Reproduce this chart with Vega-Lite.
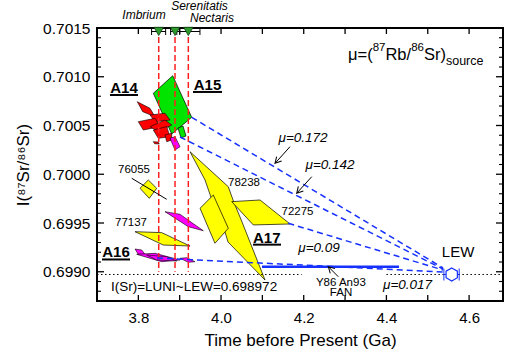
{
  "$schema": "https://vega.github.io/schema/vega-lite/v6.json",
  "width": 406,
  "height": 273,
  "autosize": {"type": "none"},
  "padding": {"left": 97, "top": 28, "right": 5, "bottom": 58},
  "background": "white",
  "config": {
    "view": {"stroke": "black", "strokeWidth": 2},
    "font": "Liberation Sans",
    "axis": {"grid": false, "domain": false, "ticks": false, "labelColor": "black", "titleColor": "black", "labelFont": "Liberation Sans", "titleFont": "Liberation Sans", "titleFontWeight": "normal"},
    "text": {"font": "Liberation Sans", "color": "black"}
  },
  "datasets": {
    "poly": [
      {"id": "g1", "g": "A15", "o": 1, "x": 3.8362, "y": 0.70083},
      {"id": "g1", "g": "A15", "o": 2, "x": 3.8831, "y": 0.701011},
      {"id": "g1", "g": "A15", "o": 3, "x": 3.9291, "y": 0.700584},
      {"id": "g1", "g": "A15", "o": 4, "x": 3.8807, "y": 0.700413},
      {"id": "g2", "g": "A15", "o": 1, "x": 3.8959, "y": 0.700474},
      {"id": "g2", "g": "A15", "o": 2, "x": 3.908, "y": 0.700495},
      {"id": "g2", "g": "A15", "o": 3, "x": 3.9153, "y": 0.700392},
      {"id": "g2", "g": "A15", "o": 4, "x": 3.9032, "y": 0.700372},
      {"id": "r1", "g": "A14", "o": 1, "x": 3.7975, "y": 0.700744},
      {"id": "r1", "g": "A14", "o": 2, "x": 3.8282, "y": 0.700676},
      {"id": "r1", "g": "A14", "o": 3, "x": 3.8403, "y": 0.70059},
      {"id": "r1", "g": "A14", "o": 4, "x": 3.8105, "y": 0.700642},
      {"id": "r2", "g": "A14", "o": 1, "x": 3.8282, "y": 0.700608},
      {"id": "r2", "g": "A14", "o": 2, "x": 3.8645, "y": 0.700625},
      {"id": "r2", "g": "A14", "o": 3, "x": 3.8766, "y": 0.700556},
      {"id": "r2", "g": "A14", "o": 4, "x": 3.8403, "y": 0.700539},
      {"id": "r3", "g": "A14", "o": 1, "x": 3.7999, "y": 0.700539},
      {"id": "r3", "g": "A14", "o": 2, "x": 3.8403, "y": 0.700574},
      {"id": "r3", "g": "A14", "o": 3, "x": 3.8524, "y": 0.700488},
      {"id": "r3", "g": "A14", "o": 4, "x": 3.812, "y": 0.700454},
      {"id": "r4", "g": "A14", "o": 1, "x": 3.8282, "y": 0.700488},
      {"id": "r4", "g": "A14", "o": 2, "x": 3.8645, "y": 0.700556},
      {"id": "r4", "g": "A14", "o": 3, "x": 3.8807, "y": 0.700505},
      {"id": "r4", "g": "A14", "o": 4, "x": 3.8483, "y": 0.700436},
      {"id": "r5", "g": "A14", "o": 1, "x": 3.8362, "y": 0.700454},
      {"id": "r5", "g": "A14", "o": 2, "x": 3.8686, "y": 0.700488},
      {"id": "r5", "g": "A14", "o": 3, "x": 3.8766, "y": 0.700385},
      {"id": "r5", "g": "A14", "o": 4, "x": 3.8483, "y": 0.700369},
      {"id": "r6", "g": "A14", "o": 1, "x": 3.8645, "y": 0.700403},
      {"id": "r6", "g": "A14", "o": 2, "x": 3.8807, "y": 0.70042},
      {"id": "r6", "g": "A14", "o": 3, "x": 3.8807, "y": 0.700351},
      {"id": "r6", "g": "A14", "o": 4, "x": 3.8686, "y": 0.700334},
      {"id": "r7", "g": "A14", "o": 1, "x": 3.8362, "y": 0.700334},
      {"id": "r7", "g": "A14", "o": 2, "x": 3.8476, "y": 0.70033},
      {"id": "r7", "g": "A14", "o": 3, "x": 3.8507, "y": 0.70031},
      {"id": "r7", "g": "A14", "o": 4, "x": 3.8396, "y": 0.700313},
      {"id": "m1", "g": "FAN", "o": 1, "x": 3.8766, "y": 0.700369},
      {"id": "m1", "g": "FAN", "o": 2, "x": 3.8887, "y": 0.700385},
      {"id": "m1", "g": "FAN", "o": 3, "x": 3.9008, "y": 0.700283},
      {"id": "m1", "g": "FAN", "o": 4, "x": 3.8887, "y": 0.700249},
      {"id": "m2", "g": "FAN", "o": 1, "x": 3.8645, "y": 0.699616},
      {"id": "m2", "g": "FAN", "o": 2, "x": 3.9008, "y": 0.699589},
      {"id": "m2", "g": "FAN", "o": 3, "x": 3.9571, "y": 0.699421},
      {"id": "m2", "g": "FAN", "o": 4, "x": 3.9209, "y": 0.699462},
      {"id": "m3", "g": "FAN", "o": 1, "x": 3.7919, "y": 0.699233},
      {"id": "m3", "g": "FAN", "o": 2, "x": 3.8081, "y": 0.699223},
      {"id": "m3", "g": "FAN", "o": 3, "x": 3.8161, "y": 0.699179},
      {"id": "m3", "g": "FAN", "o": 4, "x": 3.7999, "y": 0.699179},
      {"id": "m4", "g": "FAN", "o": 1, "x": 3.796, "y": 0.699179},
      {"id": "m4", "g": "FAN", "o": 2, "x": 3.8403, "y": 0.699189},
      {"id": "m4", "g": "FAN", "o": 3, "x": 3.9008, "y": 0.699121},
      {"id": "m4", "g": "FAN", "o": 4, "x": 3.8565, "y": 0.699103},
      {"id": "m5", "g": "FAN", "o": 1, "x": 3.8202, "y": 0.699172},
      {"id": "m5", "g": "FAN", "o": 2, "x": 3.8686, "y": 0.699154},
      {"id": "m5", "g": "FAN", "o": 3, "x": 3.8928, "y": 0.69911},
      {"id": "m5", "g": "FAN", "o": 4, "x": 3.8444, "y": 0.699121},
      {"id": "m6", "g": "FAN", "o": 1, "x": 3.9008, "y": 0.699138},
      {"id": "m6", "g": "FAN", "o": 2, "x": 3.917, "y": 0.699144},
      {"id": "m6", "g": "FAN", "o": 3, "x": 3.9371, "y": 0.699103},
      {"id": "m6", "g": "FAN", "o": 4, "x": 3.9209, "y": 0.699097},
      {"id": "y1", "g": "A17", "o": 1, "x": 3.925, "y": 0.700231},
      {"id": "y1", "g": "A17", "o": 2, "x": 4.0176, "y": 0.699872},
      {"id": "y1", "g": "A17", "o": 3, "x": 4.029, "y": 0.699736},
      {"id": "y1", "g": "A17", "o": 4, "x": 4.0508, "y": 0.69951},
      {"id": "y1", "g": "A17", "o": 5, "x": 4.1064, "y": 0.698915},
      {"id": "y1", "g": "A17", "o": 6, "x": 4.0169, "y": 0.699305},
      {"id": "y1", "g": "A17", "o": 7, "x": 4.0096, "y": 0.699408},
      {"id": "y1", "g": "A17", "o": 8, "x": 3.983, "y": 0.699674},
      {"id": "y1", "g": "A17", "o": 9, "x": 3.9613, "y": 0.699941},
      {"id": "y3", "g": "A17", "o": 1, "x": 4.0258, "y": 0.699719},
      {"id": "y3", "g": "A17", "o": 2, "x": 4.0943, "y": 0.699736},
      {"id": "y3", "g": "A17", "o": 3, "x": 4.1669, "y": 0.69949},
      {"id": "y3", "g": "A17", "o": 4, "x": 4.0781, "y": 0.69948},
      {"id": "y2", "g": "A17", "o": 1, "x": 3.9492, "y": 0.699651},
      {"id": "y2", "g": "A17", "o": 2, "x": 3.9813, "y": 0.699787},
      {"id": "y2", "g": "A17", "o": 3, "x": 4.0176, "y": 0.699446},
      {"id": "y2", "g": "A17", "o": 4, "x": 3.9854, "y": 0.699292},
      {"id": "y4", "g": "A17", "o": 1, "x": 3.804, "y": 0.699856},
      {"id": "y4", "g": "A17", "o": 2, "x": 3.8241, "y": 0.699941},
      {"id": "y4", "g": "A17", "o": 3, "x": 3.8444, "y": 0.699856},
      {"id": "y4", "g": "A17", "o": 4, "x": 3.8265, "y": 0.699753},
      {"id": "y5", "g": "A17", "o": 1, "x": 3.7919, "y": 0.699411},
      {"id": "y5", "g": "A17", "o": 2, "x": 3.8565, "y": 0.699401},
      {"id": "y5", "g": "A17", "o": 3, "x": 3.925, "y": 0.699264},
      {"id": "y5", "g": "A17", "o": 4, "x": 3.8604, "y": 0.699274}
    ],
    "segs": [
      {"k": "age", "x": 3.8493, "y": 0.7015, "xe": 3.8493, "ye": 0.699},
      {"k": "age", "x": 3.8887, "y": 0.7015, "xe": 3.8887, "ye": 0.699},
      {"k": "age", "x": 3.9209, "y": 0.7015, "xe": 3.9209, "ye": 0.699},
      {"k": "mix", "x": 3.9291, "y": 0.700584, "xe": 4.537, "ye": 0.699039},
      {"k": "mix", "x": 3.9008, "y": 0.700382, "xe": 4.537, "ye": 0.699028},
      {"k": "mix", "x": 4.1628, "y": 0.699497, "xe": 4.537, "ye": 0.699018},
      {"k": "mix", "x": 3.8451, "y": 0.699141, "xe": 4.537, "ye": 0.698998},
      {"k": "fan", "x": 4.0991, "y": 0.699052, "xe": 4.4305, "ye": 0.699052},
      {"k": "ref", "x": 3.7, "y": 0.698972, "xe": 4.195, "ye": 0.698972},
      {"k": "ref", "x": 4.4, "y": 0.698972, "xe": 4.682, "ye": 0.698972},
      {"k": "blk", "x": 3.7839, "y": 0.699959, "xe": 3.8686, "ye": 0.699743},
      {"k": "blk", "x": 4.1669, "y": 0.700283, "xe": 4.1306, "ye": 0.700112},
      {"k": "blk", "x": 4.2194, "y": 0.699975, "xe": 4.1831, "ye": 0.699805},
      {"k": "blk", "x": 4.2837, "y": 0.698949, "xe": 4.2595, "ye": 0.699052},
      {"k": "ul", "x": 3.7314, "y": 0.700813, "xe": 3.7992, "ye": 0.700813},
      {"k": "ul", "x": 3.9322, "y": 0.700844, "xe": 4.0024, "ye": 0.700844},
      {"k": "ul", "x": 3.7121, "y": 0.699126, "xe": 3.7798, "ye": 0.699126},
      {"k": "ul", "x": 4.0774, "y": 0.699278, "xe": 4.1451, "ye": 0.699278},
      {"k": "err", "x": 3.832, "y": 0.701464, "xe": 3.866, "ye": 0.701464},
      {"k": "err", "x": 3.878, "y": 0.701464, "xe": 3.9, "ye": 0.701464},
      {"k": "err", "x": 3.893, "y": 0.701464, "xe": 3.949, "ye": 0.701464},
      {"k": "lewerr", "x": 4.539, "y": 0.698972, "xe": 4.576, "ye": 0.698972}
    ],
    "caps": [
      {"k": "err", "x": 3.832, "y": 0.701464},
      {"k": "err", "x": 3.866, "y": 0.701464},
      {"k": "err", "x": 3.878, "y": 0.701464},
      {"k": "err", "x": 3.9, "y": 0.701464},
      {"k": "err", "x": 3.893, "y": 0.701464},
      {"k": "err", "x": 3.949, "y": 0.701464},
      {"k": "lewerr", "x": 4.539, "y": 0.698972},
      {"k": "lewerr", "x": 4.576, "y": 0.698972}
    ],
    "basins": [
      {"name": "Imbrium", "x": 3.8493, "y": 0.701465},
      {"name": "Serenitatis", "x": 3.8887, "y": 0.701465},
      {"name": "Nectaris", "x": 3.9209, "y": 0.701465}
    ],
    "lew": [{"name": "LEW", "x": 4.558, "y": 0.698972}],
    "heads": [
      {"k": "a", "x": 4.1306, "y": 0.700112},
      {"k": "a", "x": 4.1831, "y": 0.699805},
      {"k": "b", "x": 4.2595, "y": 0.699052}
    ],
    "yticks": [
      {"side": "L", "m": "minor", "x": 3.7, "y": 0.6988}, {"side": "L", "m": "minor", "x": 3.7, "y": 0.6989}, {"side": "L", "m": "major", "x": 3.7, "y": 0.699},
      {"side": "L", "m": "minor", "x": 3.7, "y": 0.6991}, {"side": "L", "m": "minor", "x": 3.7, "y": 0.6992}, {"side": "L", "m": "minor", "x": 3.7, "y": 0.6993}, {"side": "L", "m": "minor", "x": 3.7, "y": 0.6994}, {"side": "L", "m": "major", "x": 3.7, "y": 0.6995},
      {"side": "L", "m": "minor", "x": 3.7, "y": 0.6996}, {"side": "L", "m": "minor", "x": 3.7, "y": 0.6997}, {"side": "L", "m": "minor", "x": 3.7, "y": 0.6998}, {"side": "L", "m": "minor", "x": 3.7, "y": 0.6999}, {"side": "L", "m": "major", "x": 3.7, "y": 0.7},
      {"side": "L", "m": "minor", "x": 3.7, "y": 0.7001}, {"side": "L", "m": "minor", "x": 3.7, "y": 0.7002}, {"side": "L", "m": "minor", "x": 3.7, "y": 0.7003}, {"side": "L", "m": "minor", "x": 3.7, "y": 0.7004}, {"side": "L", "m": "major", "x": 3.7, "y": 0.7005},
      {"side": "L", "m": "minor", "x": 3.7, "y": 0.7006}, {"side": "L", "m": "minor", "x": 3.7, "y": 0.7007}, {"side": "L", "m": "minor", "x": 3.7, "y": 0.7008}, {"side": "L", "m": "minor", "x": 3.7, "y": 0.7009}, {"side": "L", "m": "major", "x": 3.7, "y": 0.701},
      {"side": "L", "m": "minor", "x": 3.7, "y": 0.7011}, {"side": "L", "m": "minor", "x": 3.7, "y": 0.7012}, {"side": "L", "m": "minor", "x": 3.7, "y": 0.7013}, {"side": "L", "m": "minor", "x": 3.7, "y": 0.7014},
      {"side": "R", "m": "minor", "x": 4.682, "y": 0.6988}, {"side": "R", "m": "minor", "x": 4.682, "y": 0.6989}, {"side": "R", "m": "major", "x": 4.682, "y": 0.699},
      {"side": "R", "m": "minor", "x": 4.682, "y": 0.6991}, {"side": "R", "m": "minor", "x": 4.682, "y": 0.6992}, {"side": "R", "m": "minor", "x": 4.682, "y": 0.6993}, {"side": "R", "m": "minor", "x": 4.682, "y": 0.6994}, {"side": "R", "m": "major", "x": 4.682, "y": 0.6995},
      {"side": "R", "m": "minor", "x": 4.682, "y": 0.6996}, {"side": "R", "m": "minor", "x": 4.682, "y": 0.6997}, {"side": "R", "m": "minor", "x": 4.682, "y": 0.6998}, {"side": "R", "m": "minor", "x": 4.682, "y": 0.6999}, {"side": "R", "m": "major", "x": 4.682, "y": 0.7},
      {"side": "R", "m": "minor", "x": 4.682, "y": 0.7001}, {"side": "R", "m": "minor", "x": 4.682, "y": 0.7002}, {"side": "R", "m": "minor", "x": 4.682, "y": 0.7003}, {"side": "R", "m": "minor", "x": 4.682, "y": 0.7004}, {"side": "R", "m": "major", "x": 4.682, "y": 0.7005},
      {"side": "R", "m": "minor", "x": 4.682, "y": 0.7006}, {"side": "R", "m": "minor", "x": 4.682, "y": 0.7007}, {"side": "R", "m": "minor", "x": 4.682, "y": 0.7008}, {"side": "R", "m": "minor", "x": 4.682, "y": 0.7009}, {"side": "R", "m": "major", "x": 4.682, "y": 0.701},
      {"side": "R", "m": "minor", "x": 4.682, "y": 0.7011}, {"side": "R", "m": "minor", "x": 4.682, "y": 0.7012}, {"side": "R", "m": "minor", "x": 4.682, "y": 0.7013}, {"side": "R", "m": "minor", "x": 4.682, "y": 0.7014}
    ],
    "xticks": [
      {"side": "B", "x": 3.8, "y": 0.6987}, {"side": "B", "x": 3.9, "y": 0.6987}, {"side": "B", "x": 4.0, "y": 0.6987}, {"side": "B", "x": 4.1, "y": 0.6987}, {"side": "B", "x": 4.2, "y": 0.6987}, {"side": "B", "x": 4.3, "y": 0.6987}, {"side": "B", "x": 4.4, "y": 0.6987}, {"side": "B", "x": 4.5, "y": 0.6987}, {"side": "B", "x": 4.6, "y": 0.6987},
      {"side": "T", "x": 3.8, "y": 0.7015}, {"side": "T", "x": 3.9, "y": 0.7015}, {"side": "T", "x": 4.0, "y": 0.7015}, {"side": "T", "x": 4.1, "y": 0.7015}, {"side": "T", "x": 4.2, "y": 0.7015}, {"side": "T", "x": 4.3, "y": 0.7015}, {"side": "T", "x": 4.4, "y": 0.7015}, {"side": "T", "x": 4.5, "y": 0.7015}, {"side": "T", "x": 4.6, "y": 0.7015}
    ],
    "texts": [
      {"k": "A", "t": "A14", "x": 3.7653, "y": 0.700833},
      {"k": "A", "t": "A15", "x": 3.9673, "y": 0.700864},
      {"k": "A", "t": "A16", "x": 3.746, "y": 0.699148},
      {"k": "A", "t": "A17", "x": 4.1105, "y": 0.699298},
      {"k": "s", "t": "76055", "x": 3.7895, "y": 0.700044},
      {"k": "s", "t": "77137", "x": 3.7822, "y": 0.6995},
      {"k": "s", "t": "78238", "x": 4.0556, "y": 0.699913},
      {"k": "s", "t": "72275", "x": 4.185, "y": 0.699616},
      {"k": "s", "t": "Y86 An93", "x": 4.2898, "y": 0.698888},
      {"k": "s", "t": "FAN", "x": 4.2903, "y": 0.698779},
      {"k": "mu", "t": "μ=0.172", "x": 4.1983, "y": 0.700372},
      {"k": "mu", "t": "μ=0.142", "x": 4.2636, "y": 0.700095},
      {"k": "mu", "t": "μ=0.09", "x": 4.237, "y": 0.699241},
      {"k": "mu", "t": "μ=0.017", "x": 4.4511, "y": 0.698864},
      {"k": "basin", "t": "Imbrium", "x": 3.8137, "y": 0.701633},
      {"k": "basin", "t": "Serenitatis", "x": 3.9479, "y": 0.701726},
      {"k": "basin", "t": "Nectaris", "x": 3.9782, "y": 0.701602},
      {"k": "lew", "t": "LEW", "x": 4.5733, "y": 0.699203},
      {"k": "lun", "t": "I(Sr)=LUNI~LEW=0.698972", "x": 3.9347, "y": 0.698847},
      {"k": "src", "t": "μ=(", "x": 4.3072, "y": 0.701223},
      {"k": "sup", "t": "87", "x": 4.3667, "y": 0.701295},
      {"k": "src", "t": "Rb/", "x": 4.3976, "y": 0.701223},
      {"k": "sup", "t": "86", "x": 4.4598, "y": 0.701295},
      {"k": "src", "t": "Sr)", "x": 4.4908, "y": 0.701223},
      {"k": "sub", "t": "source", "x": 4.544, "y": 0.701162}
    ]
  },
  "encoding": {
    "x": {"field": "x", "type": "quantitative", "scale": {"domain": [3.7, 4.682], "nice": false, "zero": false},
      "axis": {"orient": "bottom", "values": [3.8, 4.0, 4.2, 4.4, 4.6], "format": ".1f", "labelPadding": 9, "labelFontSize": 15, "labelOverlap": false, "labelFlush": false, "title": "Time before Present (Ga)", "titleFontSize": 17, "titlePadding": 7}},
    "y": {"field": "y", "type": "quantitative", "scale": {"domain": [0.6987, 0.7015], "nice": false, "zero": false},
      "axis": {"orient": "left", "values": [0.699, 0.6995, 0.7, 0.7005, 0.701, 0.7015], "format": ".4f", "labelPadding": 7, "labelFontSize": 15.5, "labelOverlap": false, "labelFlush": false, "title": "I(⁸⁷Sr/⁸⁶Sr)", "titleFontSize": 17, "titlePadding": 10}}
  },
  "layer": [
    {"data": {"name": "poly"}, "transform": [{"filter": "datum.g=='A15'"}], "mark": {"type": "line", "interpolate": "linear-closed", "fill": "#00e400", "stroke": "black", "strokeWidth": 0.7}, "encoding": {"detail": {"field": "id"}, "order": {"field": "o"}}},
    {"data": {"name": "poly"}, "transform": [{"filter": "datum.g=='A14'"}], "mark": {"type": "line", "interpolate": "linear-closed", "fill": "#ff0000", "stroke": "black", "strokeWidth": 0.6}, "encoding": {"detail": {"field": "id"}, "order": {"field": "o"}}},
    {"data": {"name": "poly"}, "transform": [{"filter": "datum.g=='FAN'"}], "mark": {"type": "line", "interpolate": "linear-closed", "fill": "#ff00ff", "stroke": "black", "strokeWidth": 0.6}, "encoding": {"detail": {"field": "id"}, "order": {"field": "o"}}},
    {"data": {"name": "poly"}, "transform": [{"filter": "datum.g=='A17'"}], "mark": {"type": "line", "interpolate": "linear-closed", "fill": "#ffff00", "stroke": "black", "strokeWidth": 0.7}, "encoding": {"detail": {"field": "id"}, "order": {"field": "o"}}},
    {"data": {"name": "segs"}, "transform": [{"filter": "datum.k=='ref'"}], "mark": {"type": "rule", "stroke": "black", "strokeWidth": 1, "strokeDash": [1.5, 2.5]}, "encoding": {"x2": {"field": "xe"}, "y2": {"field": "ye"}}},
    {"data": {"name": "segs"}, "transform": [{"filter": "datum.k=='age'"}], "mark": {"type": "rule", "stroke": "#ff2020", "strokeWidth": 1.5, "strokeDash": [6, 3]}, "encoding": {"x2": {"field": "xe"}, "y2": {"field": "ye"}}},
    {"data": {"name": "segs"}, "transform": [{"filter": "datum.k=='mix'"}], "mark": {"type": "rule", "stroke": "#1530ff", "strokeWidth": 1.5, "strokeDash": [6, 4]}, "encoding": {"x2": {"field": "xe"}, "y2": {"field": "ye"}}},
    {"data": {"name": "segs"}, "transform": [{"filter": "datum.k=='fan'"}], "mark": {"type": "rule", "stroke": "#1530ff", "strokeWidth": 2.5}, "encoding": {"x2": {"field": "xe"}, "y2": {"field": "ye"}}},
    {"data": {"name": "segs"}, "transform": [{"filter": "datum.k=='blk'"}], "mark": {"type": "rule", "stroke": "black", "strokeWidth": 1}, "encoding": {"x2": {"field": "xe"}, "y2": {"field": "ye"}}},
    {"data": {"name": "segs"}, "transform": [{"filter": "datum.k=='ul'"}], "mark": {"type": "rule", "stroke": "black", "strokeWidth": 2}, "encoding": {"x2": {"field": "xe"}, "y2": {"field": "ye"}}},
    {"data": {"name": "segs"}, "transform": [{"filter": "datum.k=='err'"}], "mark": {"type": "rule", "stroke": "black", "strokeWidth": 1}, "encoding": {"x2": {"field": "xe"}, "y2": {"field": "ye"}}},
    {"data": {"name": "segs"}, "transform": [{"filter": "datum.k=='lewerr'"}], "mark": {"type": "rule", "stroke": "#1530ff", "strokeWidth": 1}, "encoding": {"x2": {"field": "xe"}, "y2": {"field": "ye"}}},
    {"data": {"name": "caps"}, "transform": [{"filter": "datum.k=='err'"}], "mark": {"type": "tick", "orient": "vertical", "size": 7, "thickness": 1, "color": "black", "opacity": 1}},
    {"data": {"name": "caps"}, "transform": [{"filter": "datum.k=='lewerr'"}], "mark": {"type": "tick", "orient": "vertical", "size": 12, "thickness": 1, "color": "#1530ff", "opacity": 1}},
    {"data": {"name": "lew"}, "mark": {"type": "point", "shape": "M 0 -1 L 0.866 -0.5 L 0.866 0.5 L 0 1 L -0.866 0.5 L -0.866 -0.5 Z", "size": 170, "filled": true, "fill": "white", "stroke": "#1530ff", "strokeWidth": 1.2, "opacity": 1}},
    {"data": {"name": "heads"}, "transform": [{"filter": "datum.k=='a'"}], "mark": {"type": "point", "shape": "M -0.55 1 L 0 0 L 0.55 1", "size": 150, "filled": false, "stroke": "black", "strokeWidth": 1, "angle": 222, "opacity": 1}},
    {"data": {"name": "heads"}, "transform": [{"filter": "datum.k=='b'"}], "mark": {"type": "point", "shape": "M -0.55 1 L 0 0 L 0.55 1", "size": 150, "filled": false, "stroke": "black", "strokeWidth": 1, "angle": 315, "opacity": 1}},
    {"data": {"name": "basins"}, "mark": {"type": "point", "shape": "triangle-down", "size": 90, "filled": true, "fill": "#2e9a2e", "stroke": "#0d3d0d", "strokeWidth": 0.8, "opacity": 1}},
    {"data": {"name": "yticks"}, "transform": [{"filter": "datum.side=='L' && datum.m=='major'"}], "mark": {"type": "tick", "orient": "horizontal", "size": 7, "thickness": 1.3, "xOffset": 3.5, "color": "black", "opacity": 1}},
    {"data": {"name": "yticks"}, "transform": [{"filter": "datum.side=='L' && datum.m=='minor'"}], "mark": {"type": "tick", "orient": "horizontal", "size": 4, "thickness": 1.1, "xOffset": 2, "color": "black", "opacity": 1}},
    {"data": {"name": "yticks"}, "transform": [{"filter": "datum.side=='R' && datum.m=='major'"}], "mark": {"type": "tick", "orient": "horizontal", "size": 7, "thickness": 1.3, "xOffset": -3.5, "color": "black", "opacity": 1}},
    {"data": {"name": "yticks"}, "transform": [{"filter": "datum.side=='R' && datum.m=='minor'"}], "mark": {"type": "tick", "orient": "horizontal", "size": 4, "thickness": 1.1, "xOffset": -2, "color": "black", "opacity": 1}},
    {"data": {"name": "xticks"}, "transform": [{"filter": "datum.side=='B'"}], "mark": {"type": "tick", "orient": "vertical", "size": 6, "thickness": 1.3, "yOffset": -3, "color": "black", "opacity": 1}},
    {"data": {"name": "xticks"}, "transform": [{"filter": "datum.side=='T'"}], "mark": {"type": "tick", "orient": "vertical", "size": 6, "thickness": 1.3, "yOffset": 3, "color": "black", "opacity": 1}},
    {"data": {"name": "texts"}, "transform": [{"filter": "datum.k=='A'"}], "mark": {"type": "text", "fontSize": 15, "fontWeight": "bold", "baseline": "alphabetic"}, "encoding": {"text": {"field": "t"}}},
    {"data": {"name": "texts"}, "transform": [{"filter": "datum.k=='s'"}], "mark": {"type": "text", "fontSize": 11.5}, "encoding": {"text": {"field": "t"}}},
    {"data": {"name": "texts"}, "transform": [{"filter": "datum.k=='mu'"}], "mark": {"type": "text", "fontSize": 13.5, "fontStyle": "italic"}, "encoding": {"text": {"field": "t"}}},
    {"data": {"name": "texts"}, "transform": [{"filter": "datum.k=='basin'"}], "mark": {"type": "text", "fontSize": 12, "fontStyle": "italic"}, "encoding": {"text": {"field": "t"}}},
    {"data": {"name": "texts"}, "transform": [{"filter": "datum.k=='lew'"}], "mark": {"type": "text", "fontSize": 15}, "encoding": {"text": {"field": "t"}}},
    {"data": {"name": "texts"}, "transform": [{"filter": "datum.k=='lun'"}], "mark": {"type": "text", "fontSize": 13.5}, "encoding": {"text": {"field": "t"}}},
    {"data": {"name": "texts"}, "transform": [{"filter": "datum.k=='src'"}], "mark": {"type": "text", "fontSize": 16.5, "align": "left"}, "encoding": {"text": {"field": "t"}}},
    {"data": {"name": "texts"}, "transform": [{"filter": "datum.k=='sup'"}], "mark": {"type": "text", "fontSize": 11.5, "align": "left"}, "encoding": {"text": {"field": "t"}}},
    {"data": {"name": "texts"}, "transform": [{"filter": "datum.k=='sub'"}], "mark": {"type": "text", "fontSize": 12.5, "align": "left"}, "encoding": {"text": {"field": "t"}}}
  ]
}
